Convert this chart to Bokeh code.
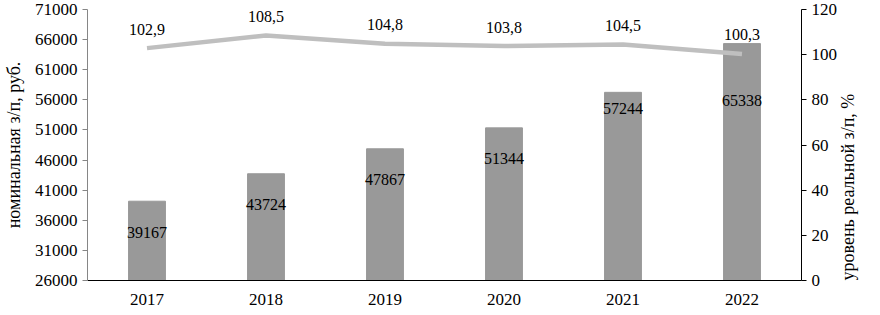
import math
from bokeh.plotting import figure
from bokeh.models import Range1d, LinearAxis, FixedTicker, ColumnDataSource, FactorRange
from bokeh.core.properties import value
from bokeh.embed import file_html
from bokeh.resources import INLINE

years = ["2017", "2018", "2019", "2020", "2021", "2022"]
nominal = [39167, 43724, 47867, 51344, 57244, 65338]
real_level = [102.9, 108.5, 104.8, 103.8, 104.5, 100.3]
left_ticks = [26000, 31000, 36000, 41000, 46000, 51000, 56000, 61000, 66000, 71000]
right_ticks = [0, 20, 40, 60, 80, 100, 120]

FONT = "Liberation Serif"

p = figure(width=872, height=307, x_range=FactorRange(*years),
           y_range=Range1d(26000, 71000), output_backend="svg",
           toolbar_location=None, min_border_left=74, min_border_right=71,
           min_border_top=9, min_border_bottom=26)
p.extra_y_ranges = {"pct": Range1d(0, 120)}
p.xgrid.visible = False
p.ygrid.visible = False
p.outline_line_color = None

src = ColumnDataSource(dict(x=years, y=nominal,
                            r=real_level, rl=[f"{v:.1f}".replace(".", ",") for v in real_level]))

p.vbar(x="x", top="y", bottom=26000, width=0.31, color="#999999", source=src)
p.line(x="x", y="r", y_range_name="pct", line_color="#bfbfbf", line_width=4.5, source=src)

bar_label_dy = [31, 31, 31, 31, 16, 57]
src2 = ColumnDataSource(dict(x=years, y=nominal, lbl=[str(v) for v in nominal], dy=bar_label_dy))
p.text(x="x", y="y", text="lbl", y_offset="dy", source=src2, text_align="center",
       text_baseline="middle", text_font=value(FONT), text_font_size="16px", text_color="black")
p.text(x="x", y="r", text="rl", y_range_name="pct", y_offset=-19, source=src, text_align="center",
       text_baseline="middle", text_font=value(FONT), text_font_size="16px", text_color="black")

la = p.yaxis[0]
la.ticker = FixedTicker(ticks=left_ticks)
la.axis_label = "номинальная з/п, руб."
la.axis_line_color = "#868686"
la.major_tick_line_color = "#868686"
la.major_tick_out = 5
la.major_tick_in = 0
la.minor_tick_line_color = None

ra = LinearAxis(y_range_name="pct", ticker=FixedTicker(ticks=right_ticks),
                axis_label="уровень реальной з/п, %")
ra.axis_line_color = "black"
ra.major_tick_line_color = "black"
ra.major_tick_out = 5
ra.major_tick_in = 0
ra.minor_tick_line_color = None
ra.axis_label_orientation = math.pi / 2
ra.axis_label_align = "start"
p.add_layout(ra, "right")

p.xaxis.axis_line_color = "black"
p.xaxis.major_tick_line_color = None
p.xaxis.minor_tick_line_color = None

for ax in p.axis:
    ax.major_label_text_font = FONT
    ax.major_label_text_font_size = "17px"
    ax.major_label_text_color = "black"
    ax.axis_label_text_font = FONT
    ax.axis_label_text_font_size = "18px"
    ax.axis_label_text_font_style = "normal"
    ax.axis_label_text_color = "black"
p.xaxis.major_label_standoff = 7
la.axis_label_standoff = 8
ra.axis_label_standoff = 8

open("out.html", "w").write(file_html(p, INLINE))
